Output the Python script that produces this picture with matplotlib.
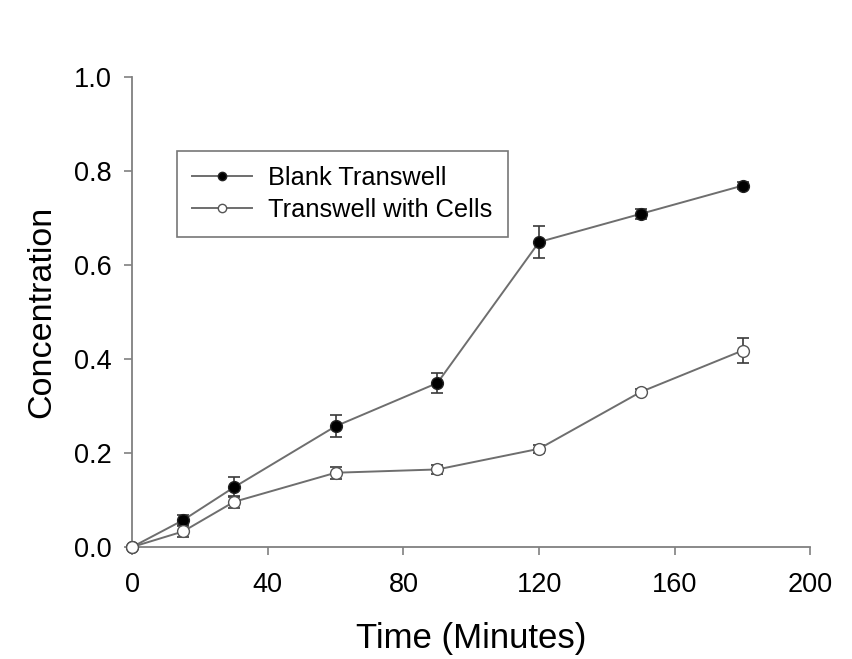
#!/usr/bin/env python3
"""Concentration over time: blank transwell vs transwell with cells."""

import matplotlib

matplotlib.use("Agg")
import matplotlib.pyplot as plt
from matplotlib.lines import Line2D

plt.rcParams["font.family"] = ["Liberation Sans", "DejaVu Sans"]

# Data
TIME = [0, 15, 30, 60, 90, 120, 150, 180]
BLANK = [0.0, 0.057, 0.127, 0.257, 0.349, 0.649, 0.709, 0.769]
BLANK_ERR = [0.0, 0.011, 0.021, 0.023, 0.022, 0.034, 0.010, 0.007]
CELLS = [0.0, 0.033, 0.096, 0.158, 0.165, 0.209, 0.330, 0.418]
CELLS_ERR = [0.0, 0.011, 0.013, 0.013, 0.010, 0.008, 0.006, 0.026]

X_TICKS = [0, 40, 80, 120, 160, 200]
Y_TICKS = [0.0, 0.2, 0.4, 0.6, 0.8, 1.0]

LINE = "#6e6e6e"
AXIS = "#808080"


def main():
    fig = plt.figure(figsize=(8.53, 6.59), dpi=100)
    ax = fig.add_axes([0.155, 0.170, 0.795, 0.713])

    for ys, err, face, edge in ((BLANK, BLANK_ERR, "black", "#222222"),
                                (CELLS, CELLS_ERR, "white", "#555555")):
        ax.errorbar(TIME, ys, yerr=err, fmt="none", ecolor="#3a3a3a",
                    elinewidth=1.2, capsize=4.5, capthick=1.2, zorder=2)
        ax.plot(TIME, ys, color=LINE, linewidth=1.4, marker="o", markersize=8.5,
                markerfacecolor=face, markeredgecolor=edge, clip_on=False,
                zorder=3)

    ax.set_xlim(0, 200)
    ax.set_ylim(0, 1.0)
    ax.set_xticks(X_TICKS)
    ax.set_yticks(Y_TICKS)
    ax.set_yticklabels([f"{v:.1f}" for v in Y_TICKS])

    for side in ("top", "right"):
        ax.spines[side].set_visible(False)
    for side in ("left", "bottom"):
        ax.spines[side].set_color(AXIS)
        ax.spines[side].set_linewidth(1.3)
    ax.tick_params(direction="out", length=6, width=1.2, color=AXIS,
                   labelsize=19.5, labelcolor="black")
    ax.tick_params(axis="y", pad=9)
    ax.tick_params(axis="x", pad=12)

    ax.set_xlabel("Time (Minutes)", fontsize=25, labelpad=17)
    ax.set_ylabel("Concentration", fontsize=24.5, labelpad=12)

    handles = [
        Line2D([], [], color=LINE, linewidth=1.4, marker="o", markersize=6,
               markerfacecolor="black", markeredgecolor="#222222"),
        Line2D([], [], color=LINE, linewidth=1.4, marker="o", markersize=6,
               markerfacecolor="white", markeredgecolor="#555555"),
    ]
    leg = ax.legend(handles, ["Blank Transwell", "Transwell with Cells"],
                    loc="upper left", bbox_to_anchor=(0.066, 0.843),
                    fontsize=18.3, frameon=True, fancybox=False,
                    handlelength=2.35, borderpad=0.6, labelspacing=0.3,
                    handletextpad=0.65, borderaxespad=0)
    leg.get_frame().set_edgecolor("#555555")
    leg.get_frame().set_linewidth(1.2)

    fig.savefig("out.png", dpi=100, facecolor="white")


if __name__ == "__main__":
    main()
